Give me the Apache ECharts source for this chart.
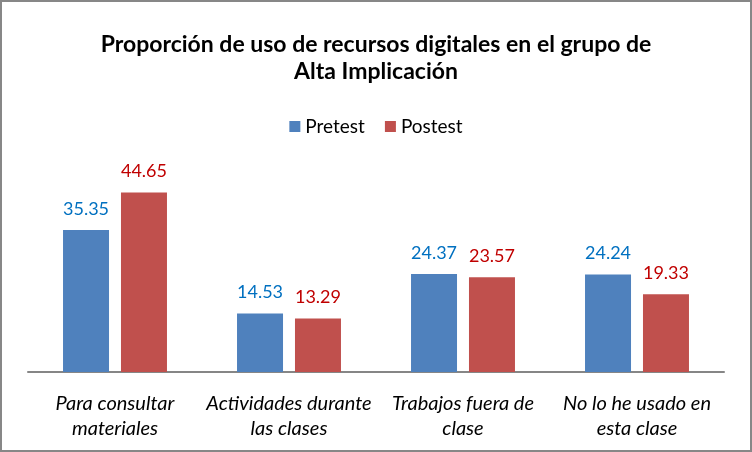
<!DOCTYPE html>
<html>
<head>
<meta charset="utf-8">
<script src="https://cdn.jsdelivr.net/npm/echarts@6/dist/echarts.min.js"></script>
<style>
html,body{margin:0;padding:0;background:#fff;}
#frame{position:absolute;left:0;top:0;width:748px;height:448px;border:2px solid #878787;}
#c{width:752px;height:452px;position:absolute;left:-2px;top:-2px;}
</style>
</head>
<body>
<div id="frame"><div id="c"></div></div>
<script>
const categories = ['Para consultar\nmateriales', 'Actividades durante\nlas clases', 'Trabajos fuera de\nclase', 'No lo he usado en\nesta clase'];
const pretest = [35.35, 14.53, 24.37, 24.24];
const postest = [44.65, 13.29, 23.57, 19.33];
const seriesNames = ['Pretest', 'Postest'];
const titleText = 'Proporción de uso de recursos digitales en el grupo de\nAlta Implicación';

const FONT = 'Lato, "Open Sans", sans-serif';
const chart = echarts.init(document.getElementById('c'));
chart.setOption({
  animation: false,
  title: {
    text: titleText,
    left: 'center',
    top: 26,
    textStyle: {fontFamily: FONT, fontSize: 23, fontWeight: 'bold', color: '#000', lineHeight: 27}
  },
  legend: {
    data: seriesNames,
    top: 112,
    left: 'center',
    itemWidth: 11,
    itemHeight: 11,
    itemGap: 20,
    icon: 'rect',
    textStyle: {fontFamily: FONT, fontSize: 19, color: '#000'}
  },
  grid: {left: 28, right: 28, top: 171, bottom: 80, containLabel: false},
  xAxis: {
    type: 'category',
    data: categories,
    axisLine: {lineStyle: {color: '#868686', width: 2}},
    axisTick: {show: false},
    axisLabel: {fontFamily: FONT, fontSize: 20, fontStyle: 'italic', color: '#000', margin: 19, lineHeight: 25, interval: 0}
  },
  yAxis: {
    type: 'value',
    min: 0,
    max: 50,
    show: false,
    splitLine: {show: false}
  },
  series: [
    {
      name: seriesNames[0],
      type: 'bar',
      data: pretest,
      barWidth: 46,
      barGap: '26%',
      itemStyle: {color: '#4F81BD'},
      label: {show: true, position: 'top', distance: 12, fontFamily: FONT, fontSize: 18, color: '#0070C0'}
    },
    {
      name: seriesNames[1],
      type: 'bar',
      data: postest,
      barWidth: 46,
      itemStyle: {color: '#C0504D'},
      label: {show: true, position: 'top', distance: 12, fontFamily: FONT, fontSize: 18, color: '#C00000'}
    }
  ]
});
</script>
</body>
</html>
